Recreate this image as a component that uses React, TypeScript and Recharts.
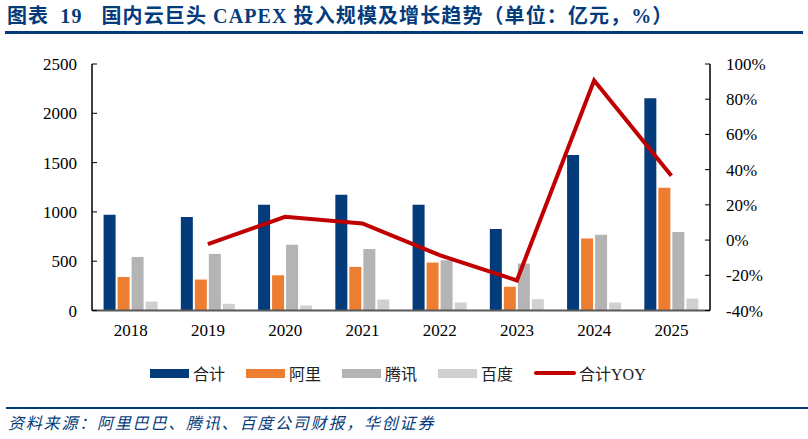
import { ComposedChart, Bar, Line, XAxis, YAxis } from 'recharts'

const YEARS = ['2018', '2019', '2020', '2021', '2022', '2023', '2024', '2025']
const TOTAL = [970, 948, 1073, 1174, 1073, 827, 1576, 2152]
const ALI = [341, 314, 357, 442, 486, 240, 729, 1245]
const TENCENT = [543, 574, 668, 624, 509, 476, 769, 796]
const BAIDU = [91, 68, 51, 111, 81, 115, 81, 121]
const YOY = [null, -2.3, 13.2, 9.4, -8.6, -22.9, 90.6, 36.5]

const LEFT_TICKS = [0, 500, 1000, 1500, 2000, 2500]
const RIGHT_TICKS = [-40, -20, 0, 20, 40, 60, 80, 100]

const TITLE_NO = '图表 19'
const TITLE = '国内云巨头 CAPEX 投入规模及增长趋势（单位：亿元，%）'
const SOURCE = '资料来源：阿里巴巴、腾讯、百度公司财报，华创证券'

const NAVY = '#033b7b'
const SERIES = [
  { key: 'total', name: '合计', color: NAVY },
  { key: 'ali', name: '阿里', color: '#ed7d31' },
  { key: 'tencent', name: '腾讯', color: '#b4b4b4' },
  { key: 'baidu', name: '百度', color: '#d0d0d0' },
]
const LINE = { key: 'yoy', name: '合计YOY', color: '#c00000' }

const FONT = "'Liberation Serif', 'Noto Sans CJK SC', serif"

const data = YEARS.map((year, i) => ({
  year,
  total: TOTAL[i],
  ali: ALI[i],
  tencent: TENCENT[i],
  baidu: BAIDU[i],
  yoy: YOY[i],
}))

const tick = { fill: '#000', fontSize: 17, fontFamily: FONT }

export default function App() {
  return (
    <div style={{ position: 'absolute', left: 0, top: 0, width: 808, height: 439, background: '#fff', fontFamily: FONT }}>
      <div
        style={{
          position: 'absolute',
          left: 7,
          top: 3,
          color: NAVY,
          fontWeight: 700,
          fontSize: 20,
          letterSpacing: 1.1,
          wordSpacing: 5,
          whiteSpace: 'nowrap',
          lineHeight: '26px',
        }}
      >
        <span>{TITLE_NO}</span>
        <span style={{ marginLeft: 19, wordSpacing: 0 }}>{TITLE}</span>
      </div>
      <div style={{ position: 'absolute', left: 5, top: 31, width: 798, height: 2.5, background: NAVY }} />

      <ComposedChart
        width={808}
        height={439}
        data={data}
        margin={{ top: 64, right: 38, left: 32, bottom: 98.5 }}
        barCategoryGap="15%"
        barGap={2}
      >
        <XAxis
          dataKey="year"
          tick={tick}
          tickLine={false}
          tickSize={0}
          tickMargin={13}
          axisLine={{ stroke: '#595959', strokeWidth: 2 }}
          height={30}
        />
        <YAxis
          yAxisId="left"
          domain={[0, 2500]}
          ticks={LEFT_TICKS}
          tick={tick}
          tickSize={-5}
          tickMargin={20}
          tickLine={{ stroke: '#000' }}
          axisLine={{ stroke: '#000', strokeWidth: 1.5 }}
          width={60}
          interval={0}
        />
        <YAxis
          yAxisId="right"
          orientation="right"
          domain={[-40, 100]}
          ticks={RIGHT_TICKS}
          tick={tick}
          tickSize={-5}
          tickMargin={21}
          tickLine={{ stroke: '#000' }}
          axisLine={{ stroke: '#000', strokeWidth: 1.5 }}
          tickFormatter={(v: number) => `${v}%`}
          width={60}
          interval={0}
        />
        {SERIES.map((s) => (
          <Bar key={s.key} yAxisId="left" dataKey={s.key} name={s.name} fill={s.color} isAnimationActive={false} />
        ))}
        <Line
          yAxisId="right"
          dataKey={LINE.key}
          name={LINE.name}
          stroke={LINE.color}
          strokeWidth={4}
          dot={false}
          activeDot={false}
          isAnimationActive={false}
        />
      </ComposedChart>

      {/* legend */}
      <div style={{ position: 'absolute', left: 150, top: 361, display: 'flex', alignItems: 'center', fontSize: 16, color: '#222', whiteSpace: 'nowrap' }}>
        {SERIES.map((s) => (
          <div key={s.key} style={{ display: 'flex', alignItems: 'center', marginRight: 21 }}>
            <div style={{ width: 39, height: 9, background: s.color, marginRight: 4 }} />
            <span>{s.name}</span>
          </div>
        ))}
        <div style={{ display: 'flex', alignItems: 'center' }}>
          <div style={{ width: 42, height: 4, borderRadius: 2, background: LINE.color, marginRight: 3 }} />
          <span>{LINE.name}</span>
        </div>
      </div>

      <div style={{ position: 'absolute', left: 6, top: 407, width: 802, height: 2, background: NAVY }} />
      <div style={{ position: 'absolute', left: 8, top: 413, color: NAVY, fontSize: 16, fontStyle: 'italic', letterSpacing: 1.8, whiteSpace: 'nowrap', lineHeight: '22px' }}>
        {SOURCE}
      </div>
    </div>
  )
}
